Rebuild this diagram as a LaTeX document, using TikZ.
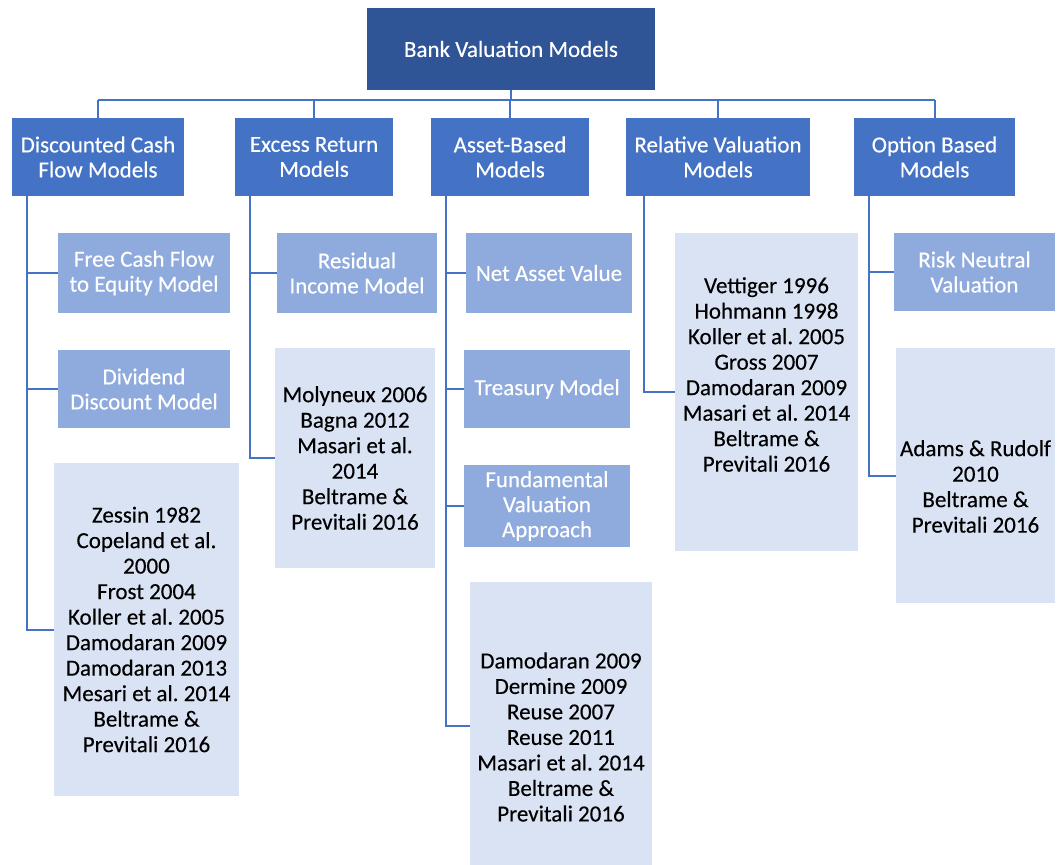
\documentclass[tikz,border=0pt]{standalone}
\usepackage{fontspec}
\setmainfont{Carlito}[BoldFont=Carlito, BoldFeatures={FakeBold=0.3}]
\frenchspacing
\definecolor{rootblue}{HTML}{2F5597}
\definecolor{midblue}{HTML}{4472C4}
\definecolor{lightblue}{HTML}{8FAADC}
\definecolor{paleblue}{HTML}{DAE3F3}
\definecolor{linkblue}{HTML}{4472C4}
\begin{document}
\begin{tikzpicture}[x=1pt,y=-1pt,
  base/.style={rectangle, inner sep=0pt, align=center, font=\fontsize{23}{25}\selectfont\bfseries\frenchspacing},
  rootbox/.style={base, fill=rootblue, text=white},
  catbox/.style={base, fill=midblue, text=white},
  subbox/.style={base, fill=lightblue, text=white},
  refbox/.style={base, fill=paleblue, text=black, font=\fontsize{23}{25.5}\selectfont\bfseries\frenchspacing},
  link/.style={draw=linkblue, line width=2pt}]
\useasboundingbox (0,0) rectangle (1061,865);
\clip (0,0) rectangle (1061,865);

% root
\node[rootbox, minimum width=288pt, minimum height=82pt] (root) at (511,49) {Bank Valuation Models};

% categories
\node[catbox, minimum width=172pt, minimum height=78pt] (dcf) at (98,157) {Discounted Cash\\Flow Models};
\node[catbox, minimum width=158pt, minimum height=78pt] (erm) at (314,157) {Excess Return\\Models};
\node[catbox, minimum width=158pt, minimum height=78pt] (abm) at (510,157) {Asset-Based\\Models};
\node[catbox, minimum width=184pt, minimum height=78pt] (rvm) at (718,157) {Relative Valuation\\Models};
\node[catbox, minimum width=161pt, minimum height=78pt] (obm) at (934.5,157) {Option Based\\Models};

% DCF children
\node[subbox, minimum width=172pt, minimum height=80pt] (fcfe) at (144,273) {Free Cash Flow\\to Equity Model};
\node[subbox, minimum width=172pt, minimum height=78pt] (ddm) at (144,389) {Dividend\\Discount Model};
\node[refbox, minimum width=185pt, minimum height=333pt] (dcfref) at (146.5,629.5) {Zessin 1982\\Copeland et al.\\2000\\Frost 2004\\Koller et al. 2005\\Damodaran 2009\\Damodaran 2013\\Mesari et al. 2014\\Beltrame \&\\Previtali 2016};

% ERM children
\node[subbox, minimum width=160pt, minimum height=80pt] (rim) at (357,273) {Residual\\Income Model};
\node[refbox, minimum width=160pt, minimum height=220pt] (ermref) at (355,458) {Molyneux 2006\\Bagna 2012\\Masari et al.\\2014\\Beltrame \&\\Previtali 2016};

% ABM children
\node[subbox, minimum width=166pt, minimum height=80pt] (nav) at (549,273) {Net Asset Value};
\node[subbox, minimum width=166pt, minimum height=78pt] (tm) at (547,389) {Treasury Model};
\node[subbox, minimum width=166pt, minimum height=82pt] (fva) at (547,506) {Fundamental\\Valuation\\Approach};
\node[refbox, minimum width=182pt, minimum height=310pt] (abmref) at (561,737) {Damodaran 2009\\Dermine 2009\\Reuse 2007\\Reuse 2011\\Masari et al. 2014\\Beltrame \&\\Previtali 2016};

% RVM children
\node[refbox, minimum width=183pt, minimum height=318pt] (rvmref) at (766.5,392) {Vettiger 1996\\Hohmann 1998\\Koller et al. 2005\\Gross 2007\\Damodaran 2009\\Masari et al. 2014\\Beltrame \&\\Previtali 2016\\[2pt]\strut};

% OBM children
\node[subbox, minimum width=161pt, minimum height=78pt] (rnv) at (974.5,272) {Risk Neutral\\Valuation};
\node[refbox, minimum width=159pt, minimum height=255pt] (obmref) at (975.5,475.5) {\strut\\[-5.5pt]Adams \& Rudolf\\2010\\Beltrame \&\\Previtali 2016};

% top connectors
\coordinate (rootj) at (511,100);
\coordinate (busl) at (98,100);
\coordinate (busr) at (934.5,100);
\draw[link] (root.south) -- (rootj);
\draw[link] (busl) -- (busr);
\foreach \n in {dcf,erm,abm,rvm,obm}{
  \draw[link] (\n.north) -- (\n.north |- rootj);
}

% branch stems
\coordinate (dcfv) at (27,196);
\coordinate (ermv) at (250,196);
\coordinate (abmv) at (446,196);
\coordinate (rvmv) at (644,196);
\coordinate (obmv) at (869,196);

\draw[link] (dcfv) |- (fcfe.west);
\draw[link] (dcfv) |- (ddm.west);
\draw[link] (dcfv) |- (dcfref.west);

\draw[link] (ermv) |- (rim.west);
\draw[link] (ermv) |- (ermref.west);

\draw[link] (abmv) |- (nav.west);
\draw[link] (abmv) |- (tm.west);
\draw[link] (abmv) |- (fva.west);
\draw[link] (abmv) |- ([yshift=11pt]abmref.west);

\draw[link] (rvmv) |- (rvmref.west);

\draw[link] (obmv) |- (rnv.west);
\draw[link] (obmv) |- (obmref.west);
\end{tikzpicture}
\end{document}
